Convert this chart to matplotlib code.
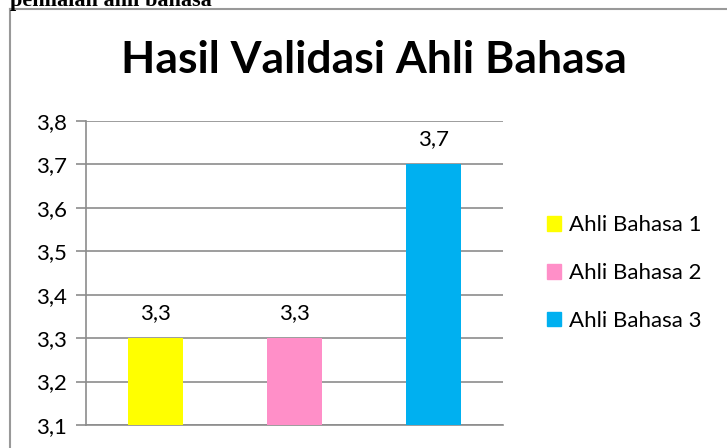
import matplotlib.pyplot as plt
from matplotlib.lines import Line2D
from matplotlib.patches import Patch

series = ['Ahli Bahasa 1', 'Ahli Bahasa 2', 'Ahli Bahasa 3']
values = [3.3, 3.3, 3.7]
colors = ['#FFFF00', '#FF8FC8', '#00B0F0']
yticks = [3.1, 3.2, 3.3, 3.4, 3.5, 3.6, 3.7, 3.8]

plt.rcParams['font.family'] = ['Lato', 'DejaVu Sans']

W, H = 727, 448
fig = plt.figure(figsize=(W / 100, H / 100), dpi=100)

# cut-off caption above the chart box
fig.text(212 / W, 1 - 1 / H, 'penilaian ahli bahasa', ha='right', va='center',
         fontsize=16, fontweight='bold', family='Liberation Serif')

# chart border
fig.add_artist(Line2D([10 / W, 10 / W], [0, 1 - 9 / H], transform=fig.transFigure,
                      color='#999999', lw=1.5))
fig.add_artist(Line2D([10 / W, 1], [1 - 9 / H, 1 - 9 / H], transform=fig.transFigure,
                      color='#999999', lw=1.5))

ax = fig.add_axes([86 / W, 1 - 425 / H, (503 - 86) / W, (425 - 121) / H])
x = range(len(values))
bars = ax.bar(x, [v - 3.1 for v in values], bottom=3.1, width=0.4, color=colors, zorder=3)
for i, v in enumerate(values):
    ax.annotate('{:.1f}'.format(v).replace('.', ','), (i, v), xytext=(0, 11),
                textcoords='offset points', ha='center', va='bottom', fontsize=16)

ax.set_xlim(-0.5, 2.5)
ax.set_ylim(3.1, 3.8)
ax.set_yticks(yticks)
ax.set_yticklabels(['{:.1f}'.format(t).replace('.', ',') for t in yticks], fontsize=16)
ax.set_xticks([])
ax.grid(axis='y', color='#8c8c8c', lw=1.2, zorder=0)
for s in ['top', 'right']:
    ax.spines[s].set_visible(False)
for s in ['left', 'bottom']:
    ax.spines[s].set_color('#8c8c8c')
    ax.spines[s].set_linewidth(1.2)
ax.tick_params(axis='y', length=7, color='#8c8c8c', width=1.2, pad=7)

fig.text(374 / W, 1 - 60 / H, 'Hasil Validasi Ahli Bahasa', ha='center', va='center',
         fontsize=32, fontweight='bold')

handles = [Patch(color=c, label=s) for c, s in zip(colors, series)]
fig.legend(handles=handles, loc='center left', bbox_to_anchor=(527 / W, 1 - 273 / H),
           frameon=False, fontsize=16, handlelength=0.65, handleheight=0.65,
           handletextpad=0.35, labelspacing=1.25)

fig.savefig('out.png', dpi=100)
